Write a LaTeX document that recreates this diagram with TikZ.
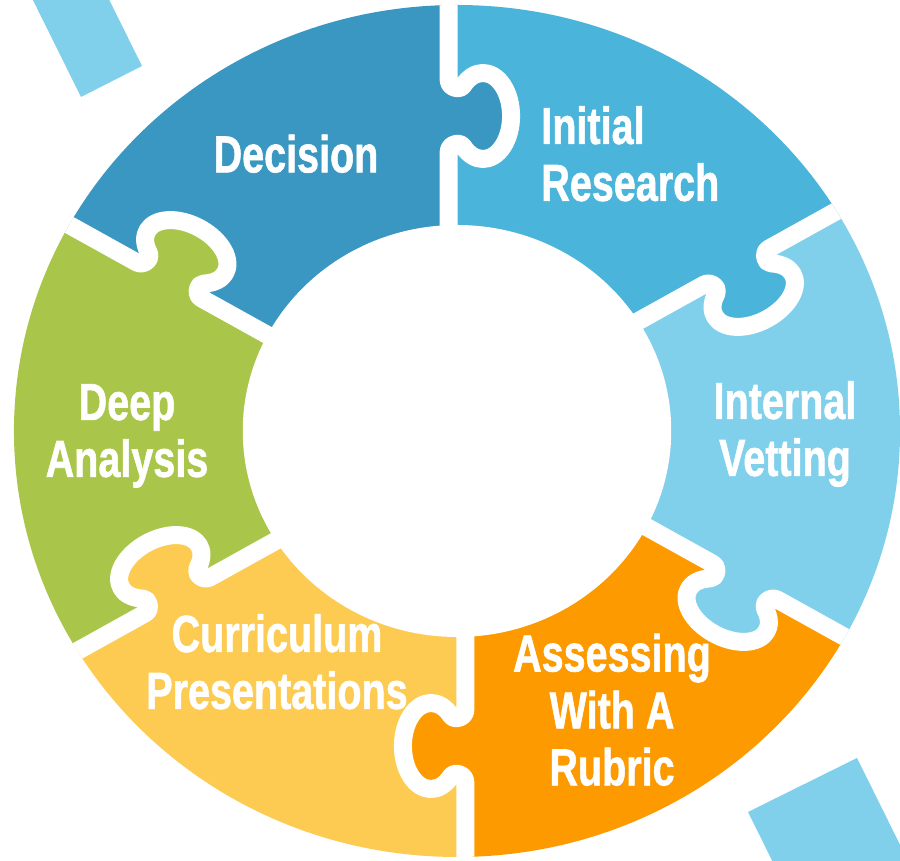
\documentclass[tikz,border=0pt]{standalone}
\usepackage{fontspec}
\setmainfont{Liberation Sans}[BoldFeatures={FakeBold=1.3}]
\usepackage{graphicx}
\usepackage{tikz}

\definecolor{decision}{HTML}{3A97C1}
\definecolor{research}{HTML}{4BB4DA}
\definecolor{vetting}{HTML}{80D0EC}
\definecolor{rubric}{HTML}{FD9A00}
\definecolor{curric}{HTML}{FECB52}
\definecolor{analysis}{HTML}{AAC64A}

\tikzset{
  piecetext/.style={text=white, font=\bfseries\fontsize{29.6}{32.4}\selectfont, inner sep=0pt},
  gapline/.style={white, line width=0.36cm, line join=round},
}

% narrow bold lines, one column
\newcommand{\narrowlines}[2][c]{\scalebox{0.76}[1]{\begin{tabular}{@{}#1@{}}#2\end{tabular}}}

% knob outline along the middle of a gap, from its top point (0,36) down to (0,-36)
\newcommand{\knobcurve}{.. controls (0,28) and (10.7,25.3) .. (13.91,30.41)
  arc[start angle=135, end angle=-135, x radius=27, y radius=43]
  .. controls (10.7,-25.3) and (0,-28) .. (0,-36)}

\begin{document}
\begin{tikzpicture}[x=0.02cm, y=0.02cm]
  \useasboundingbox (0,0) rectangle (900,861);

  % Corner strips
  \fill[vetting] (81,764) -- (142,795) -- (82,916) -- (21,885) -- cycle;
  \fill[vetting] (748,49) -- (857,103) -- (917,-18) -- (808,-72) -- cycle;

  % Ring
  \begin{scope}[shift={(457,430)}, xscale=1.04]
    \clip (0,0) circle[radius=426];
    \foreach \a/\c in {90/decision, 30/research, -30/vetting, -90/rubric, -150/curric, 150/analysis}
      \fill[\c] (0,0) -- (\a:600) arc[start angle=\a, end angle=\a+60, radius=600] -- cycle;
    \foreach \a/\c in {90/decision, 30/research, -30/vetting, -90/rubric, -150/curric, 150/analysis}
      \fill[\c, rotate=\a-90, shift={(-8,315)}] (0,36) \knobcurve -- cycle;
    \foreach \a in {90,30,-30,-90,-150,150}
      \draw[gapline, rotate=\a-90, shift={(-8,315)}] (0,130) -- (0,36) \knobcurve -- (0,-130);
    \fill[white] (0,0) circle[radius=206];
  \end{scope}

  % Labels
  \node[piecetext] (decision) at (296,700) {\narrowlines{Decision}};
  \node[piecetext, anchor=west] (research) at (541,700) {\narrowlines[l]{Initial\\Research}};
  \node[piecetext] (vetting) at (785,425) {\narrowlines{Internal\\Vetting}};
  \node[piecetext] (rubric) at (612,144) {\narrowlines{Assessing\\With A\\Rubric}};
  \node[piecetext] (curric) at (277,192) {\narrowlines{Curriculum\\Presentations}};
  \node[piecetext] (analysis) at (127,424) {\narrowlines{Deep\\Analysis}};
\end{tikzpicture}
\end{document}
